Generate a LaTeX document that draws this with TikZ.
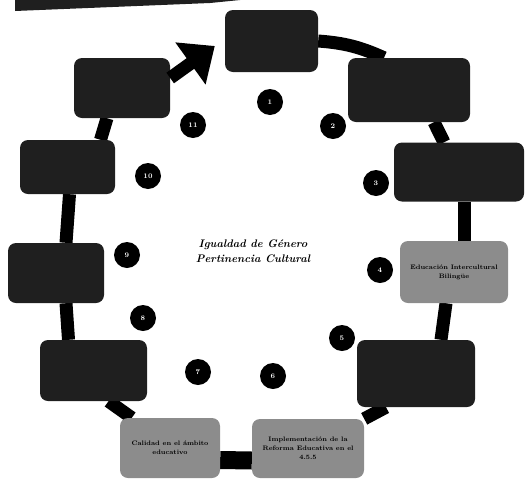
\documentclass[tikz,border=0pt]{standalone}
\usepackage{tikz}
\usetikzlibrary{arrows.meta, backgrounds}
\definecolor{BoxDark}{rgb}{0.12,0.12,0.12}
\definecolor{BoxGray}{rgb}{0.55,0.55,0.55}

\begin{document}
\begin{tikzpicture}[x=1pt, y=-1pt,
		darkbox/.style={fill=BoxDark, rounded corners=8pt, inner sep=0pt},
		graybox/.style={fill=BoxGray, rounded corners=8pt, inner sep=0pt, align=center,
			font=\fontsize{6.5}{9}\selectfont\bfseries},
		num/.style={circle, fill=black, minimum size=26pt, inner sep=0pt, text=white,
			font=\fontsize{7}{7}\selectfont\bfseries},
		ring/.style={line width=13pt, black}]
		
		\useasboundingbox (0,0) rectangle (527,485);
		
		% strip at the top edge
		\fill[BoxDark] (15,0) -- (15,11) -- (210,3) -- (240,0) -- cycle;
		
		% boxes round the ring
		\node[darkbox, minimum width=93pt, minimum height=62pt] (b1) at (271.5,41) {};
		\node[darkbox, minimum width=122pt, minimum height=64pt] (b2) at (409,90) {};
		\node[darkbox, minimum width=130pt, minimum height=59pt] (b3) at (459,172) {};
		\node[graybox, minimum width=108pt, minimum height=62pt] (b4) at (454,272) {Educación Intercultural\\Bilingüe};
		\node[darkbox, minimum width=118pt, minimum height=67pt] (b5) at (416,373.5) {};
		\node[graybox, minimum width=112pt, minimum height=59pt] (b6) at (308,448.5) {Implementación de la\\Reforma Educativa en el\\4.5.5};
		\node[graybox, minimum width=100pt, minimum height=60pt] (b7) at (170,448) {Calidad en el ámbito\\educativo};
		\node[darkbox, minimum width=107pt, minimum height=61pt] (b8) at (93.5,370.5) {};
		\node[darkbox, minimum width=96pt, minimum height=60pt] (b9) at (56,273) {};
		\node[darkbox, minimum width=95pt, minimum height=54pt] (b10) at (67.5,167) {};
		\node[darkbox, minimum width=96pt, minimum height=60pt] (b11) at (122,88) {};
		
		% ring behind the boxes
		\begin{pgfonlayer}{background}
			\draw[ring] (b1.east) to[bend left=10] ([xshift=-25pt]b2.north);
			\draw[ring] ([xshift=25pt]b2.south) -- ([xshift=-15pt]b3.north);
			\draw[ring] ([xshift=5pt]b3.south) -- ([xshift=10pt]b4.north);
			\draw[ring] ([xshift=-8pt]b4.south) -- ([xshift=25pt]b5.north);
			\draw[ring] ([xshift=-30pt]b5.south) -- (b6.north east);
			\draw[ring, line width=18pt] ([yshift=-12pt]b6.west) -- ([yshift=-12pt]b7.east);
			\draw[ring] ([xshift=12pt]b7.north west) -- ([xshift=15pt]b8.south);
			\draw[ring] ([xshift=-25pt]b8.north) -- ([xshift=10pt]b9.south);
			\draw[ring] ([xshift=10pt]b9.north) -- ([xshift=2pt]b10.south);
			\draw[ring] ([xshift=33pt]b10.north) -- ([xshift=-15pt]b11.south);
		\end{pgfonlayer}
		\draw[ring, -{Triangle[length=30pt, width=50pt]}] ([yshift=10pt]b11.east) -- ([xshift=-10pt, yshift=-5pt]b1.west);
		
		% numbered steps
		\node[num] (c1) at (270,102) {1};
		\node[num] (c2) at (333,126) {2};
		\node[num] (c3) at (376,183) {3};
		\node[num] (c4) at (380,270) {4};
		\node[num] (c5) at (342,338) {5};
		\node[num] (c6) at (273,376) {6};
		\node[num] (c7) at (198,372) {7};
		\node[num] (c8) at (143,318) {8};
		\node[num] (c9) at (127,255) {9};
		\node[num] (c10) at (148,176) {10};
		\node[num] (c11) at (193,125) {11};
		
		% title in the middle
		\node[align=center, font=\fontsize{11}{15}\selectfont\bfseries\itshape] (title) at (253,251) {Igualdad de Género\\Pertinencia Cultural};
		
	\end{tikzpicture}
\end{document}
